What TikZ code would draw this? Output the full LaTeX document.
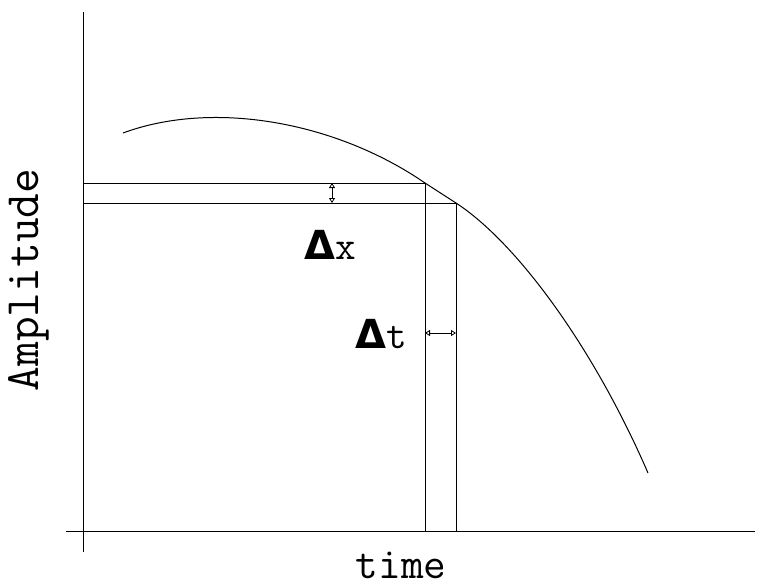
\documentclass[tikz,border=0pt]{standalone}
\usepackage{fontspec}
\newfontfamily\symfont{DejaVu Sans}
\usetikzlibrary{arrows.meta}

\begin{document}
\begin{tikzpicture}[x=1pt,y=-1pt,line width=1pt,
  lab/.style={inner sep=0pt,anchor=base,font=\ttfamily\fontsize{40}{40}\selectfont},
  dd/.style={line width=0.8pt,{Triangle[open,length=5pt,width=6pt]}-{Triangle[open,length=5pt,width=6pt]}}]
\useasboundingbox (0,0) rectangle (757,587);
% axes
\coordinate (xl) at (66,531);
\coordinate (xr) at (755,531);
\coordinate (yb) at (83,552);
\coordinate (yt) at (83,12);
\draw (xl) -- (xr);
\draw (yb) -- (yt);
% the two points on the curve
\coordinate (p) at (425,183);
\coordinate (q) at (456,203);
% curve
\draw (123,133) .. controls (212,100) and (335,121) .. (p) -- (q)
  .. controls (516,242) and (593,346) .. (648,473);
\foreach \c in {p,q} {
  \draw (\c) -- (83,0 |- \c);
  \draw (\c) -- (\c |- xl);
}
% increments
\draw[dd] (332,183) -- (332,203);
\draw[dd] (425,333) -- (456,333);
\node[lab] (dx) at (330,259) {{\symfont\bfseries Δ}x};
\node[lab] (dt) at (381,348) {{\symfont\bfseries Δ}t};
\node[lab,font=\ttfamily\fontsize{44}{44}\selectfont] (time) at (401,578) {time};
\node[lab,font=\ttfamily\fontsize{48}{48}\selectfont,rotate=90,anchor=center] (amp) at (29,280) {Amplitude};
\end{tikzpicture}
\end{document}
